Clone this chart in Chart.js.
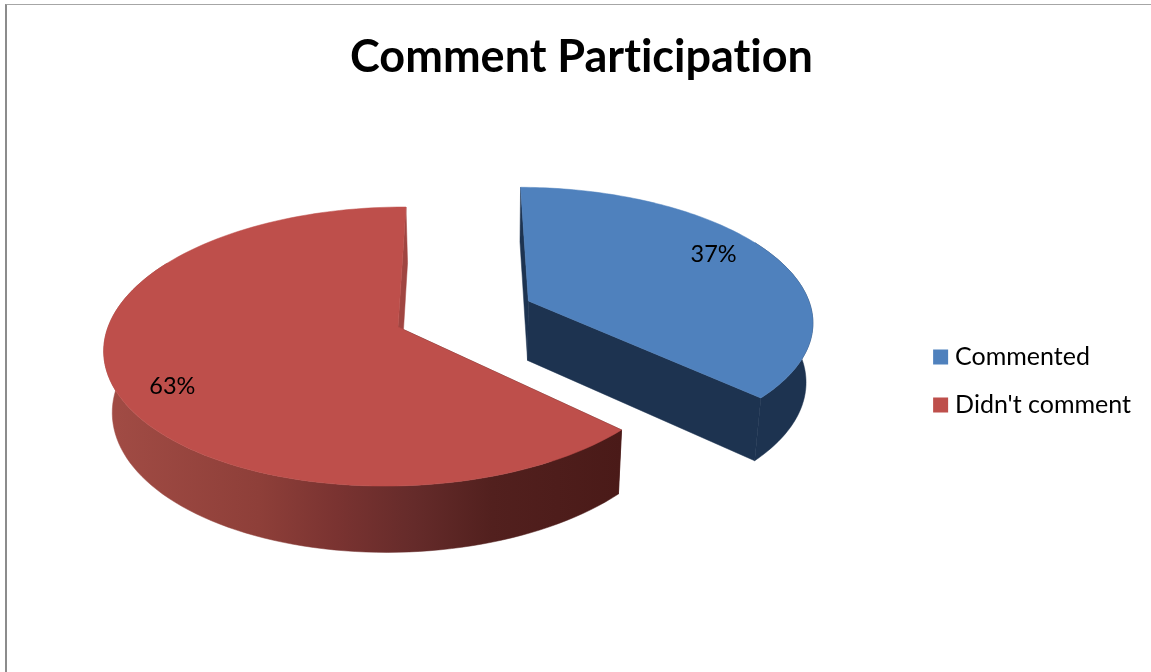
<!DOCTYPE html>
<html>
<head>
<meta charset="utf-8">
<style>
  html, body { margin: 0; padding: 0; background: #fff; overflow: hidden; }
  #frame { position: absolute; left: 5px; top: 4px; right: 0; bottom: 0; border-left: 2px solid #8c8c8c; border-top: 1px solid #a6a6a6; }
  canvas { position: absolute; left: 0; top: 0; }
</style>
<script src="https://cdn.jsdelivr.net/npm/chart.js@4"></script>
</head>
<body>
<div id="frame"></div>
<canvas id="participation" width="1151" height="672"></canvas>
<script>
const categories = ['Commented', "Didn't comment"];
const shares = [37, 63];
const colors = ['#4F81BD', '#BE4F4B'];

// camera for the tilted pie: u, v on the unit disk, z = 0 top face, z = 1 base
const CAM = { x0: 398, y0: 327, R: 292, b: -9.1, c: 2, k: 136.8, e: 62, g: -0.14, h: 0.008, j: 0.022 };
const EXPLODE = [0.494, 0];
const WIDEN = [1.002, 0.985];
const LABEL_SPOT = [[0.705, -0.385], [-0.722, 0.41]];
const FIRST_WALL = ['#1D3350', '#4A1A18'];
const SECOND_WALL = ['#1D3350', '#A04541'];
const RIM_STOPS = [
  [[0, '#1D3350'], [1, '#1D3350']],
  [[0, '#A24C45'], [0.3, '#8E3F39'], [0.45, '#7A3331'], [0.6, '#652B2A'], [0.75, '#52201E'], [1, '#4A1A18']],
];

function project(u, v, z, widen) {
  const d = 1 + CAM.g * v + CAM.h * u + CAM.j * z;
  return {
    x: CAM.x0 + (CAM.R * widen * u + CAM.b * v + CAM.c * z) / d,
    y: CAM.y0 + (CAM.k * v + CAM.e * z) / d,
  };
}

function rimAngles(arc) {
  const from = arc.startAngle + Math.PI / 2;
  const to = arc.endAngle + Math.PI / 2;
  const angles = [];
  for (let i = 0; i <= 120; i++) angles.push(from + ((to - from) * i) / 120);
  return angles;
}

function fillPolygon(ctx, points, fill) {
  ctx.beginPath();
  points.forEach((p, i) => (i ? ctx.lineTo(p.x, p.y) : ctx.moveTo(p.x, p.y)));
  ctx.closePath();
  ctx.fillStyle = fill;
  ctx.strokeStyle = fill;
  ctx.lineWidth = 0.5;
  ctx.fill();
  ctx.stroke();
}

const tiltedPie = {
  id: 'tiltedPie',
  beforeDraw(chart) {
    // Lato would otherwise join the "ti" pair in the title
    chart.ctx.textRendering = 'optimizeSpeed';
  },
  beforeDatasetsDraw(chart) {
    const { ctx } = chart;
    chart.getDatasetMeta(0).data.forEach((arc, i) => {
      const mid = (arc.startAngle + arc.endAngle) / 2 + Math.PI / 2;
      const su = Math.sin(mid) * EXPLODE[i];
      const sv = -Math.cos(mid) * EXPLODE[i];
      const at = (t, z) => project(su + Math.sin(t), sv - Math.cos(t), z, WIDEN[i]);
      const angles = rimAngles(arc);
      const top = angles.map(t => at(t, 0));
      const apexTop = project(su, sv, 0, WIDEN[i]);
      const apexBase = project(su, sv, 1, WIDEN[i]);
      const first = angles[0];
      const last = angles[angles.length - 1];

      fillPolygon(ctx, [apexTop, at(first, 0), at(first, 1), apexBase], FIRST_WALL[i]);

      // only the part of the rim that faces the viewer
      const front = angles.filter(t => Math.cos(t) < 0.5);
      const xs = top.map(p => p.x);
      const rim = ctx.createLinearGradient(Math.min(...xs), 0, Math.max(...xs), 0);
      RIM_STOPS[i].forEach(([stop, color]) => rim.addColorStop(stop, color));
      fillPolygon(ctx, front.map(t => at(t, 0)).concat(front.slice().reverse().map(t => at(t, 1))), rim);

      fillPolygon(ctx, [apexTop, at(last, 0), at(last, 1), apexBase], SECOND_WALL[i]);
      fillPolygon(ctx, [apexTop].concat(top), arc.options.backgroundColor);

      const spot = project(su + LABEL_SPOT[i][0], sv + LABEL_SPOT[i][1], 0, WIDEN[i]);
      ctx.fillStyle = '#000';
      ctx.font = '23.5px Lato';
      ctx.textAlign = 'center';
      ctx.textBaseline = 'middle';
      ctx.fillText(shares[i] + '%', spot.x, spot.y);
    });
    return false;
  },
};

new Chart('participation', {
  type: 'pie',
  data: {
    labels: categories,
    datasets: [{ data: shares, backgroundColor: colors, borderWidth: 0 }],
  },
  plugins: [tiltedPie],
  options: {
    responsive: false,
    animation: false,
    layout: { padding: { top: 30, left: 22, right: 10 } },
    plugins: {
      tooltip: { enabled: false },
      title: {
        display: true,
        text: 'Comment Participation',
        color: '#000',
        font: { family: 'Lato', size: 45, weight: 'bold' },
        padding: { top: 0, bottom: 6 },
      },
      legend: {
        position: 'right',
        fullSize: false,
        labels: {
          usePointStyle: true,
          pointStyle: 'rect',
          boxWidth: 4,
          boxHeight: 15,
          color: '#000',
          padding: 23,
          font: { family: 'Lato', size: 25 },
        },
      },
    },
  },
});
</script>
</body>
</html>
